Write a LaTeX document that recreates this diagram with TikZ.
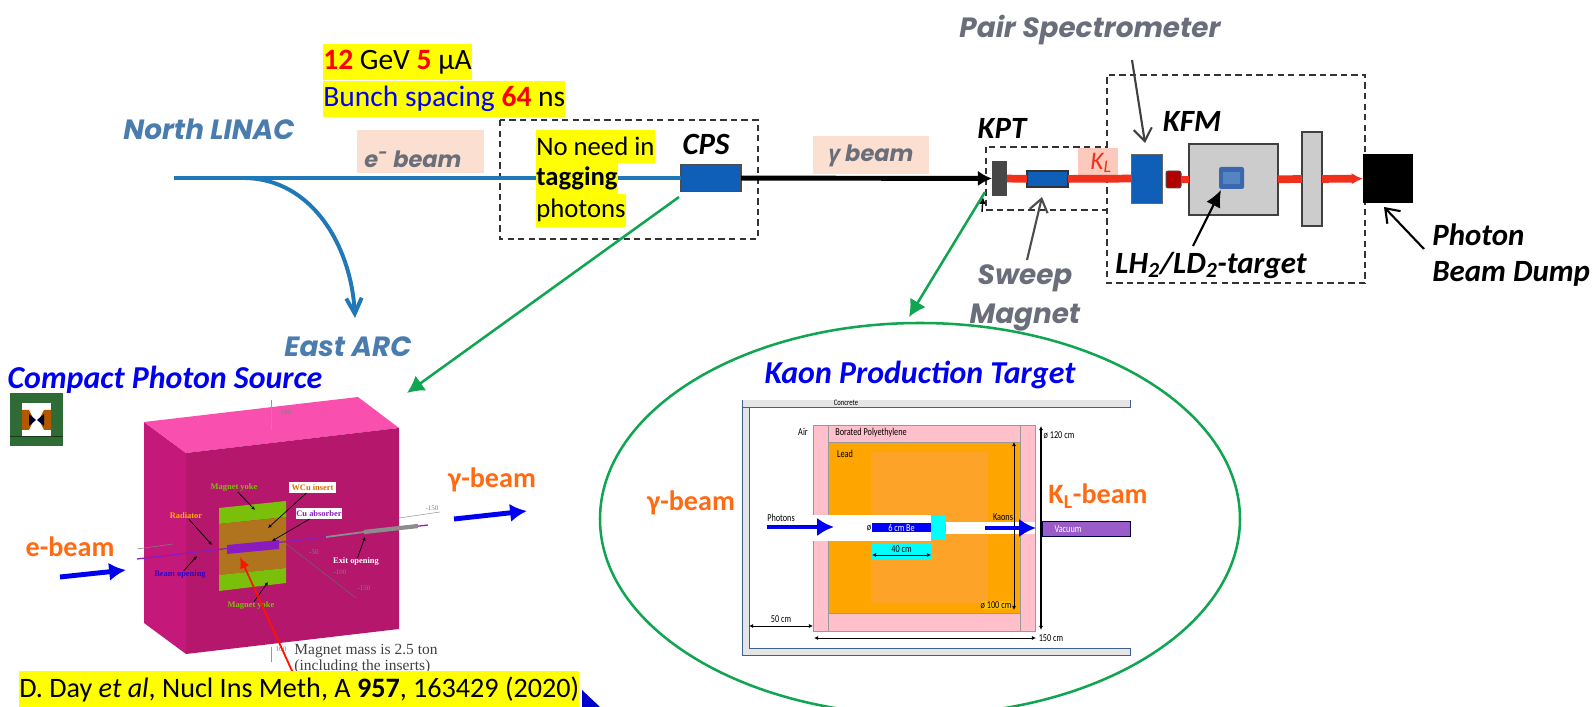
\documentclass[tikz,border=0pt]{standalone}
\usepackage{fontspec}
\setmainfont{Carlito}
\newfontfamily\gothic{Poppins}
\newfontfamily\greekfont{Open Sans}
\newfontfamily\timesfont{Liberation Serif}
\newfontfamily\narrowfont[FakeStretch=0.78]{Carlito}
\usetikzlibrary{arrows.meta,shapes.geometric}
\definecolor{hlyellow}{HTML}{FFFF00}
\definecolor{beryl}{HTML}{00FFFF}
\definecolor{linac}{HTML}{1F78B8}
\definecolor{gothicblue}{HTML}{4A7DAE}
\definecolor{gothicgrey}{HTML}{6A6E7A}
\definecolor{peach}{HTML}{FBE0D2}
\definecolor{magnetblue}{HTML}{0F5FB8}
\definecolor{linkgreen}{HTML}{10A550}
\definecolor{beamorange}{HTML}{FF6A13}
\definecolor{titleblue}{HTML}{0000F0}
\definecolor{beamred}{HTML}{F0301A}
\definecolor{cpstop}{HTML}{F94FAE}
\definecolor{cpsfront}{HTML}{B5176D}
\definecolor{cpsside}{HTML}{C4187A}
\definecolor{yokegreen}{HTML}{7AC00A}
\definecolor{wcubrown}{HTML}{B0741E}
\definecolor{absorber}{HTML}{8A1BC0}
\definecolor{shieldpink}{HTML}{FFC0CB}
\definecolor{lead}{HTML}{FFA500}
\definecolor{leadlight}{HTML}{FDA428}
\definecolor{vacuum}{HTML}{9A5CC8}
\definecolor{wall}{HTML}{3F5F8F}
\definecolor{icongreen}{HTML}{2F6B35}
\definecolor{targetblue}{HTML}{3A68AD}
\definecolor{targetcoreblue}{HTML}{5583C4}
\newcommand{\redb}[1]{\textcolor{red}{\textbf{#1}}}
\newcommand{\px}[1]{\fontsize{#1}{#1}\selectfont}
\tikzset{
  sized/.style 2 args={minimum width=#1*0.025cm, minimum height=#2*0.025cm, inner sep=0pt, outer sep=0pt},
  hl/.style={fill=hlyellow, inner xsep=0pt, inner ysep=0pt, anchor=west, minimum height=0.9cm, text=black, font=\px{21}},
  hlsmall/.style={hl, minimum height=0.81cm, font=\px{19}},
  callout/.style={font=\px{22}\bfseries\itshape, inner sep=0pt},
  grouplabel/.style={font=\px{19.8}\gothic\bfseries\itshape, inner sep=0pt},
  beamlabel/.style={font=\px{20}\bfseries, text=beamorange, inner sep=0pt},
  cpslabel/.style={font=\px{6}\timesfont\bfseries, inner sep=0pt},
  kptlabel/.style={font=\px{7.5}\narrowfont, inner sep=0pt},
  dimarrow/.style={black, line width=0.6pt, {Latex[length=3pt,width=3pt]}-{Latex[length=3pt,width=3pt]}},
  beamarrow/.style={titleblue, line width=3.5pt, -{Latex[length=12pt,width=13pt]}},
  linkarrow/.style={linkgreen, line width=1.8pt, -{Latex[length=12pt,width=13pt]}},
  cpsarrow/.style={black, line width=0.5pt, -{Latex[length=2.5pt,width=2.5pt]}},
  openarrow/.style={line width=1.5pt, -{Straight Barb[length=9pt,width=13pt]}},
  dashedbox/.style={black!80, line width=1.3pt, dash pattern=on 4.5pt off 3pt}
}
\begin{document}
\begin{tikzpicture}[x=0.025cm,y=-0.025cm]
\useasboundingbox (0,0) rectangle (1594,707);
\draw [dashedbox] (500,120) rectangle (758,239);
\draw [dashedbox] (986,147) rectangle (1107,210);
\draw [dashedbox] (1107,147) -- (1107,75) -- (1365,75) -- (1365,283) -- (1107,283) -- (1107,210);
\node[sized={127}{43}, fill=peach] (ebox) at (420.5,151.5) {};
\node[grouplabel, font=\px{16}\gothic\bfseries\itshape, text=gothicgrey] (ebeam) at (413,159) {e\textsuperscript{-} beam};
\node[sized={116}{38}, fill=peach] (gammabox) at (871,155) {};
\node[grouplabel, font=\px{16}\gothic\bfseries\itshape, text=gothicgrey] (gammabeam) at (871,156) {{\greekfont γ} beam};
\node[sized={60}{27}, fill=magnetblue, draw=black!70, line width=1pt] (cps) at (711,178) {};
\node[sized={15}{35}, fill=black!72] (kpt) at (999.5,178.5) {};
\coordinate (linacstart) at (174,178);
\coordinate (linacfork) at (243,178);
\coordinate (arcend) at (355,318);
\draw [linac, line width=3.5pt] (linacstart) -- (cps);
\draw [linac, line width=2.8pt, -{Straight Barb[length=11pt,width=11pt]}] (linacfork) to [out=0, in=93] (arcend);
\draw [black, line width=3.5pt, -{Latex[length=10pt,width=11pt]}] (cps) -- (kpt);
\node[sized={40}{29}, fill=peach!90!red] (klbox) at (1098,162.5) {};
\node[sized={41}{16}, fill=magnetblue, draw=black!80, line width=1pt] (sweep) at (1047.5,179) {};
\node[sized={31}{49}, fill=magnetblue, draw=black!60, line width=0.7pt] (kfm) at (1146.5,178.5) {};
\node[sized={15}{17}, fill=red!70!black, draw=black!70, line width=0.7pt, rounded corners=1.5pt] (collimator) at (1173.5,179.5) {};
\node[sized={89}{71}, fill=black!20, draw=black!75, line width=1pt] (flux) at (1233.5,179.5) {};
\node[sized={20}{94}, fill=black!20, draw=black!75, line width=0.8pt] (hodo) at (1312,179) {};
\node[sized={50}{49}, fill=black] (dump) at (1388,178.5) {};
\draw [beamred, line width=5.5pt] (kpt) -- (sweep);
\draw [beamred, line width=5.5pt] (sweep) -- (kfm);
\draw [beamred, line width=5.5pt] (collimator) -- (flux);
\draw [beamred, line width=5.5pt] (flux) -- (hodo);
\draw [beamred, line width=5.5pt, -{Latex[length=8pt,width=8pt]}] (hodo) -- (dump);
\node[sized={25}{22}, fill=targetblue, rounded corners=1.5pt] (target) at (1231.5,178) {};
\node[sized={17}{12}, fill=targetcoreblue] (targetcore) at (1231.5,178) {};
\node[grouplabel, text=gothicblue] (linaclabel) at (209,129) {North LINAC};
\node[grouplabel, text=gothicblue] (arclabel) at (348,347) {East ARC};
\node[grouplabel, text=gothicgrey] (pairlabel) at (1090,30) {Pair Spectrometer};
\node[grouplabel, text=gothicgrey, align=center] (sweeplabel) at (1025,298) {Sweep\\[8pt]Magnet};
\node[font=\px{18}\itshape, text=beamred, inner sep=0pt] (kl) at (1101,163) {K\textsubscript{L}};
\node[callout] (cpstext) at (706,144) {CPS};
\node[callout] (kpttext) at (1002,128) {KPT};
\node[callout] (kfmtext) at (1192,121) {KFM};
\node[callout] (targettext) at (1211,265) {LH\textsubscript{2}/LD\textsubscript{2}-target};
\node[callout, align=left, anchor=west] (dumptext) at (1432,255) {Photon\\[4pt]Beam Dump};
\coordinate (pairstart) at (1132,60);
\coordinate (kfmtop) at (1145,143);
\coordinate (sweepstart) at (1027,260);
\coordinate (sweepbottom) at (1042,197);
\coordinate (dumpstart) at (1424,249);
\coordinate (dumpcorner) at (1384,207);
\coordinate (targetstart) at (1193,246);
\coordinate (targetcorner) at (1221,190);
\coordinate (kptunder) at (983,197);
\coordinate (kptstub) at (982,212);
\draw [openarrow, black!75] (pairstart) -- (kfmtop);
\draw [openarrow, black!70] (sweepstart) -- (sweepbottom);
\draw [openarrow] (dumpstart) -- (dumpcorner);
\draw [black, line width=1.5pt, -{Latex[length=12pt,width=11pt]}] (targetstart) -- (targetcorner);
\draw [black, line width=1pt, -{Latex[length=5pt,width=5pt]}] (kptstub) -- (kptunder);
\node[hl] (energy) at (323,62.5) {\redb{12} GeV \redb{5} \textmu A};
\node[hl] (bunch) at (323,99) {\textcolor{blue}{Bunch spacing} \redb{64} ns};
\node[hlsmall] (noneed) at (536,146.5) {No need in};
\node[hlsmall] (tagging) at (536,178.5) {\textbf{tagging}};
\node[hlsmall] (photons) at (536,210.5) {photons};
\node[sized={640}{392}, ellipse, draw=linkgreen, line width=1.8pt] (kptcircle) at (920,519) {};
\coordinate (cpsfrom) at (679,197);
\coordinate (cpsto) at (407,393);
\coordinate (kptfrom) at (985,192);
\coordinate (kptto) at (909,317);
\draw [linkarrow] (cpsfrom) -- (cpsto);
\draw [linkarrow] (kptfrom) -- (kptto);
\node[font=\px{22.7}\bfseries\itshape, text=titleblue, inner sep=0pt] (cpstitle) at (165,380) {Compact Photon Source};
\node[font=\px{22.7}\bfseries\itshape, text=titleblue, inner sep=0pt] (kpttitle) at (920,375) {Kaon Production Target};
\node[sized={53}{53}, fill=icongreen] (icon) at (36.5,419.5) {};
\node[sized={29}{33}, fill=white] (iconwhite) at (36.5,419.5) {};
\fill [orange!70!black] (22,410) -- (29,410) -- (34,420) -- (29,430) -- (22,430) -- cycle;
\fill [orange!70!black] (51,410) -- (44,410) -- (39,420) -- (44,430) -- (51,430) -- cycle;
\fill [black!80!blue] (29,414) -- (36,420) -- (29,426) -- cycle;
\fill [black!80!blue] (44,414) -- (37,420) -- (44,426) -- cycle;
\draw [black!50!icongreen, line width=0.6pt] (10,436) -- (63,436);
\fill [cpsside] (144,422) -- (186,453) -- (186,654) -- (144,623) -- cycle;
\fill [cpstop] (144,422) -- (358,397) -- (399,428) -- (186,453) -- cycle;
\fill [cpsfront] (186,453) -- (399,428) -- (399,629) -- (186,654) -- cycle;
\draw [black!40, line width=0.4pt] (271,400) -- (271,430);
\draw [black!40, line width=0.4pt] (271,647) -- (271,662);
\draw [black!40, line width=0.4pt] (399,518) -- (440,512);
\draw [black!50, line width=0.4pt] (137,549) -- (173,544);
\draw [black!60, line width=0.4pt] (285,543) -- (356,598);
\node[cpslabel, font=\px{5}\timesfont, text=black!50] (tickA) at (285,412) {-100};
\node[cpslabel, font=\px{5}\timesfont, text=black!50] (tickB) at (281,649) {100};
\node[cpslabel, font=\px{5}\timesfont, text=black!50] (tickC) at (432,508) {-150};
\node[cpslabel, font=\px{5}\timesfont, text=black!50] (tickD) at (314,552) {-50};
\node[cpslabel, font=\px{5}\timesfont, text=black!50] (tickE) at (340,572) {-100};
\node[cpslabel, font=\px{5}\timesfont, text=black!50] (tickF) at (364,588) {-150};
\fill [yokegreen] (219,508) -- (286,501) -- (286,517) -- (219,524) -- cycle;
\fill [wcubrown] (219,524) -- (286,517) -- (286,568) -- (219,575) -- cycle;
\fill [yokegreen] (219,575) -- (286,568) -- (286,583) -- (219,591) -- cycle;
\draw [absorber, line width=0.9pt] (137,559) -- (428,525);
\fill [absorber] (227,545) -- (279,540) -- (279,549) -- (227,554) -- cycle;
\draw [black!45, line width=1.3pt] (326,537) -- (364,532);
\draw [black!45, line width=3pt] (364,532) -- (418,526);
\node[cpslabel, text=yokegreen] (yoketop) at (234,488) {Magnet yoke};
\node[cpslabel, fill=white, text=orange!85!black, sized={47}{11}] (wculabel) at (312.5,487.5) {WCu insert};
\node[cpslabel, fill=white, text=absorber, sized={46}{11}] (culabel) at (319,513.5) {Cu absorber};
\node[cpslabel, text=orange!60!yellow] (radlabel) at (186,516) {Radiator};
\node[cpslabel, text=blue!75!purple] (openlabel) at (180,575) {Beam opening};
\node[cpslabel, text=white] (exitlabel) at (356,562) {Exit opening};
\node[cpslabel, text=yokegreen] (yokebottom) at (251,606) {Magnet yoke};
\coordinate (yoketopend) at (255,510);
\coordinate (wcuend) at (268,528);
\coordinate (cuend) at (272,541);
\coordinate (radend) at (212,545);
\coordinate (openend) at (197,556);
\coordinate (exitend) at (365,537);
\coordinate (yokebottomend) at (268,582);
\coordinate (redend) at (240,557);
\coordinate (redstart) at (293,673);
\draw [cpsarrow] (yoketop) -- (yoketopend);
\draw [cpsarrow] (wculabel) -- (wcuend);
\draw [cpsarrow] (culabel) -- (cuend);
\draw [cpsarrow] (radlabel) -- (radend);
\draw [cpsarrow] (openlabel) -- (openend);
\draw [cpsarrow] (exitlabel) -- (exitend);
\draw [cpsarrow] (yokebottom) -- (yokebottomend);
\draw [red!85!orange, line width=1.3pt, -{Latex[length=8pt,width=7pt]}] (redstart) -- (redend);
\node[font=\fontsize{11}{8}\selectfont\timesfont, align=left, inner sep=0pt, text=black!75] (masstext) at (366,659) {Magnet mass is 2.5 ton\\(including the inserts)};
\node[hl, font=\px{20}] (citation) at (19,689.5) {D. Day \textit{et al}, Nucl Ins Meth, A \textbf{957}, 163429 (2020)};
\fill [blue!80!black] (582,690) -- (600,707) -- (582,707) -- cycle;
\node[beamlabel] (cpsein) at (70,547) {e-beam};
\node[beamlabel] (cpsgamma) at (492,480) {γ-beam};
\coordinate (einstart) at (60,577);
\coordinate (einend) at (126,570);
\coordinate (goutstart) at (454,519);
\coordinate (goutend) at (527,511);
\draw [beamarrow] (einstart) -- (einend);
\draw [beamarrow] (goutstart) -- (goutend);
\fill [black!10] (742,400) rectangle (1130,407);
\fill [black!10] (742,407) rectangle (749,648);
\fill [black!10] (742,648) rectangle (1130,655);
\draw [wall, line width=0.7pt] (742,407) -- (1130,407) -- (1130,400);
\draw [wall, line width=0.7pt] (742,400) -- (742,655) -- (1130,655) -- (1130,648) -- (749,648) -- (749,407);
\node[sized={222}{206}, fill=shieldpink, draw=black!40, line width=0.5pt] (shield) at (924,528) {};
\draw [black!40, line width=0.5pt] (828,425) -- (828,631);
\draw [black!40, line width=0.5pt] (1020,425) -- (1020,631);
\node[sized={192}{171}, fill=lead, draw=black!40, line width=0.5pt] (leadblock) at (924,527.5) {};
\node[sized={117}{151}, fill=leadlight] (leadcore) at (929.5,527.5) {};
\node[sized={118}{26}, fill=white] (tubein) at (872,528) {};
\node[sized={89}{12}, fill=white] (tubeout) at (990.5,528) {};
\node[sized={59}{9}, fill=blue, text=white, font=\px{7.5}\narrowfont] (be) at (901.5,527.5) {6 cm Be};
\node[sized={15}{24}, fill=beryl] (absorberplug) at (938.5,528) {};
\node[sized={59}{15}, fill=beryl] (fortybox) at (901.5,551.5) {};
\node[kptlabel] (fortycm) at (901.5,549) {40 cm};
\node[sized={88}{15}, fill=vacuum, draw=black!75!blue, line width=0.7pt] (vacuumpipe) at (1086,528.5) {};
\node[kptlabel, text=white] (vacuumtext) at (1068,529) {Vacuum};
\node[kptlabel, font=\px{6}\narrowfont] (concrete) at (846,403) {Concrete};
\node[kptlabel] (air) at (803,432) {Air};
\node[kptlabel] (borated) at (871,433) {Borated Polyethylene};
\node[kptlabel] (leadtext) at (845,454) {Lead};
\node[kptlabel] (photonstext) at (781,518) {Photons};
\node[kptlabel] (kaonstext) at (1003,517) {Kaons};
\node[kptlabel] (bediam) at (869,528) {ø};
\node[kptlabel] (d120) at (1059,435) {ø 120 cm};
\node[kptlabel, fill=lead!70!yellow] (d100) at (996,605) {ø 100 cm};
\node[kptlabel] (d150) at (1051,638) {150 cm};
\node[kptlabel] (d50) at (781,619) {50 cm};
\coordinate (vtop) at (1041,426);
\coordinate (vbottom) at (1041,630);
\coordinate (ltop) at (1014,442);
\coordinate (lbottom) at (1014,610);
\coordinate (hleft) at (814,638);
\coordinate (hright) at (1036,638);
\coordinate (wleft) at (749,626);
\coordinate (wright) at (813,626);
\coordinate (fleft) at (872,555);
\coordinate (fright) at (931,555);
\draw [dimarrow, line width=1.1pt] (vtop) -- (vbottom);
\draw [dimarrow] (ltop) -- (lbottom);
\draw [dimarrow] (hleft) -- (hright);
\draw [dimarrow] (wleft) -- (wright);
\draw [dimarrow] (fleft) -- (fright);
\coordinate (phstart) at (767,527);
\coordinate (phend) at (834,527);
\coordinate (kastart) at (985,528);
\coordinate (kaend) at (1036,528);
\draw [beamarrow] (phstart) -- (phend);
\draw [beamarrow] (kastart) -- (kaend);
\node[beamlabel] (kptgamma) at (691,503) {γ-beam};
\node[beamlabel] (kptkl) at (1098,496) {K\textsubscript{L}-beam};
\end{tikzpicture}
\end{document}
